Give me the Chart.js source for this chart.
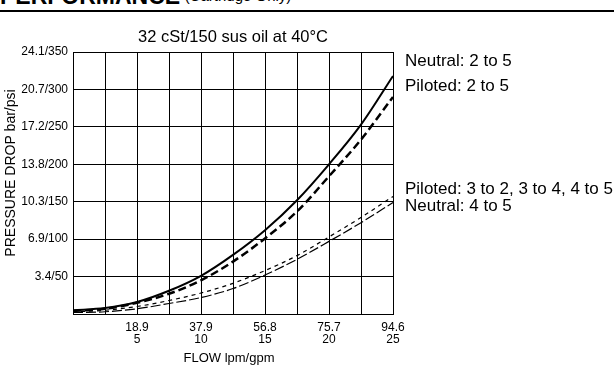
<!DOCTYPE html>
<html>
<head>
<meta charset="utf-8">
<script src="https://cdn.jsdelivr.net/npm/chart.js@4"></script>
<style>
  html, body { margin: 0; padding: 0; background: #fff; }
  #wrap { position: relative; width: 614px; height: 367px; overflow: hidden; font-family: "Liberation Sans", Arial, sans-serif; }
  #head { position: absolute; left: 0; top: -15px; white-space: nowrap; line-height: 23px; }
  #head b { font-size: 23px; }
  #head span { font-size: 15px; position: relative; top: -3px; }
  #rule { position: absolute; left: 0; top: 10px; width: 614px; height: 2px; background: #000; }
  canvas { position: absolute; left: 0; top: 0; }
</style>
</head>
<body>
<div id="wrap">
  <div id="head"><b>PERFORMANCE</b> <span>(Cartridge Only)</span></div>
  <div id="rule"></div>
  <canvas id="chart" width="614" height="367"></canvas>
</div>
<script>
// Flow in gpm (x) and pressure drop in psi (y)
const gpm = [0, 2.5, 5, 7.5, 10, 12.5, 15, 17.5, 20, 22.5, 25];
const neutral25 = [5, 8, 16, 31, 51, 79, 112, 152, 200, 253, 318];
const piloted25 = [4, 7, 15, 27, 45, 70, 101, 137, 184, 233, 290];
const piloted32 = [3, 5, 10, 18, 28, 41, 58, 78, 103, 129, 157];
const neutral45 = [2, 3, 7, 14, 22, 34, 52, 73, 97, 122, 149];

// Tick labels
const lpmLabels = ["18.9", "37.9", "56.8", "75.7", "94.6"];
const barLabels = ["3.4", "6.9", "10.3", "13.8", "17.2", "20.7", "24.1"];

const chartTitle = "32 cSt/150 sus oil at 40\u00B0C";
const seriesNames = ["Neutral: 2 to 5", "Piloted: 2 to 5", "Piloted: 3 to 2, 3 to 4, 4 to 5", "Neutral: 4 to 5"];

const FONT = '"Liberation Sans", Arial, sans-serif';

function points(arr) {
  return gpm.map((q, i) => ({ x: q, y: arr[i] }));
}

// Texts around the plot: title, axis titles and curve names
const textPlugin = {
  id: "texts",
  afterDraw(chart) {
    const { ctx, chartArea: a } = chart;
    ctx.save();
    ctx.fillStyle = "#000";
    ctx.textBaseline = "alphabetic";

    ctx.font = "16.5px " + FONT;
    ctx.textAlign = "center";
    ctx.fillText(chartTitle, (a.left + a.right) / 2, 42);

    ctx.font = "13px " + FONT;
    ctx.fillText("FLOW lpm/gpm", 229, 362);

    ctx.save();
    ctx.translate(15, 173);
    ctx.rotate(-Math.PI / 2);
    ctx.font = "14px " + FONT;
    ctx.fillText("PRESSURE DROP bar/psi", 0, 0);
    ctx.restore();

    ctx.font = "17px " + FONT;
    ctx.textAlign = "left";
    const noteY = [66, 91, 194, 211];
    seriesNames.forEach((name, i) => {
      ctx.fillText(name, a.right + 12, noteY[i]);
    });
    ctx.restore();
  }
};

const ctx = document.getElementById("chart").getContext("2d");
const myChart = new Chart(ctx, {
  type: "line",
  data: {
    datasets: [
      {
        label: seriesNames[0],
        data: points(neutral25),
        borderColor: "#000",
        borderWidth: 2,
        cubicInterpolationMode: "monotone"
      },
      {
        label: seriesNames[1],
        data: points(piloted25),
        borderColor: "#000",
        borderWidth: 2.5,
        borderDash: [8, 4],
        cubicInterpolationMode: "monotone"
      },
      {
        label: seriesNames[2],
        data: points(piloted32),
        borderColor: "#000",
        borderWidth: 1.2,
        borderDash: [4, 4],
        cubicInterpolationMode: "monotone"
      },
      {
        label: seriesNames[3],
        data: points(neutral45),
        borderColor: "#000",
        borderWidth: 1.2,
        borderDash: [10, 3],
        cubicInterpolationMode: "monotone"
      }
    ]
  },
  options: {
    responsive: false,
    animation: false,
    events: [],
    layout: {
      padding: { top: 52, right: 221, left: 0, bottom: 0 }
    },
    elements: {
      point: { radius: 0 }
    },
    plugins: {
      legend: { display: false },
      tooltip: { enabled: false }
    },
    scales: {
      x: {
        type: "linear",
        min: 0,
        max: 25,
        afterFit(scale) { scale.height = 53; },
        ticks: {
          stepSize: 2.5,
          autoSkip: false,
          maxRotation: 0,
          padding: 7,
          color: "#000",
          font: { family: FONT, size: 12, lineHeight: 1.05 },
          callback(value) {
            if (value > 0 && value % 5 === 0) {
              return [lpmLabels[value / 5 - 1], String(value)];
            }
            return "";
          }
        },
        grid: { color: "#000", lineWidth: 1, drawTicks: false },
        border: { color: "#000", width: 1 }
      },
      y: {
        min: 0,
        max: 350,
        afterFit(scale) { scale.width = 73; },
        ticks: {
          stepSize: 50,
          padding: 5,
          color: "#000",
          font: { family: FONT, size: 12 },
          callback(value) {
            if (value > 0) {
              return barLabels[value / 50 - 1] + "/" + value;
            }
            return "";
          }
        },
        grid: { color: "#000", lineWidth: 1, drawTicks: false },
        border: { color: "#000", width: 1 }
      }
    }
  },
  plugins: [textPlugin]
});
</script>
</body>
</html>
